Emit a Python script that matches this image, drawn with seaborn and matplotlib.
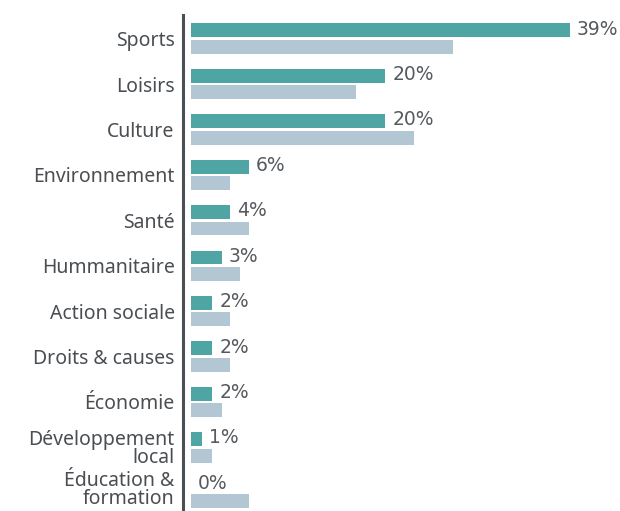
import matplotlib
matplotlib.use("Agg")
import matplotlib.pyplot as plt
import matplotlib.transforms as mtrans
import seaborn as sns
import pandas as pd

categories = ["Sports", "Loisirs", "Culture", "Environnement", "Santé", "Hummanitaire",
              "Action sociale", "Droits & causes", "Économie", "Développement\nlocal",
              "Éducation &\nformation"]
serie_principale = [39, 20, 20, 6, 4, 3.2, 2.2, 2.2, 2.2, 1.1, 0]
serie_comparaison = [27, 17, 23, 4, 6, 5, 4, 4, 3.2, 2.2, 6]
etiquettes = ["39%", "20%", "20%", "6%", "4%", "3%", "2%", "2%", "2%", "1%", "0%"]

sns.set_theme(style="white")
plt.rcParams['font.family'] = ['Noto Sans', 'DejaVu Sans']

df = pd.concat([
    pd.DataFrame({"cat": categories, "val": serie_principale, "serie": "Principale"}),
    pd.DataFrame({"cat": categories, "val": serie_comparaison, "serie": "Comparaison"}),
])

fig = plt.figure(figsize=(6.2, 5.11), dpi=100)
ax = fig.add_axes([183/620, 0, (600-183)/620, 1 - 15/511])
sns.barplot(data=df, y="cat", x="val", hue="serie", orient="h",
            palette={"Principale": "#4fa4a4", "Comparaison": "#b3c6d3"},
            width=0.72, gap=0.15, legend=False, ax=ax, saturation=1,
            linewidth=0, edgecolor="none")

teal_bars = ax.containers[0]
for bar, lab in zip(teal_bars, etiquettes):
    ax.annotate(lab, (bar.get_width(), bar.get_y() + bar.get_height()/2),
                xytext=(5, 1), textcoords="offset points", ha="left", va="center",
                fontsize=13.5, color="#555a5e", family=["DejaVu Sans"])

ax.set_xlim(-0.82, 42.1)
ax.set_ylim(10.4, -0.52)
ax.set_xlabel("")
ax.set_ylabel("")
ax.set_xticks([])
for s in ["top", "right", "bottom"]:
    ax.spines[s].set_visible(False)
ax.spines["left"].set_color("#4a5055")
ax.spines["left"].set_linewidth(2.2)
ax.tick_params(axis="y", length=0, pad=6)
labels = ax.get_yticklabels()
for t in labels:
    t.set_fontsize(14)
    t.set_color("#4a4e52")
    t.set_linespacing(0.85)
last = labels[-1]
last.set_transform(last.get_transform() + mtrans.ScaledTranslation(0, 4/100, fig.dpi_scale_trans))

fig.savefig("out.png", dpi=100)
